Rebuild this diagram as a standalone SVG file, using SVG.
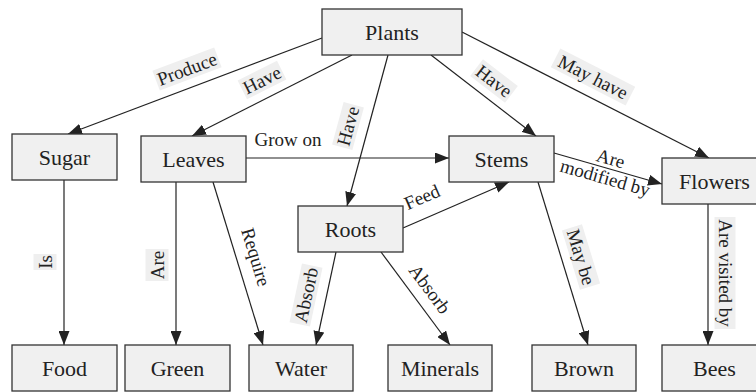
<svg xmlns="http://www.w3.org/2000/svg" width="756" height="392" viewBox="0 0 756 392" font-family="Times New Roman">
<defs>
<marker id="arr" markerUnits="userSpaceOnUse" markerWidth="14" markerHeight="11" refX="14" refY="5.5" orient="auto">
<path d="M0,0 L14,5.5 L0,11 z" fill="#222"/>
</marker>
</defs>
<rect width="756" height="392" fill="#fff"/>
<g id="connectors" stroke="#222" stroke-width="1.2" marker-end="url(#arr)">
<line x1="322" y1="38" x2="68" y2="134"/>
<line x1="352" y1="55" x2="192" y2="136"/>
<line x1="388" y1="55" x2="347" y2="206"/>
<line x1="431" y1="55" x2="536" y2="136"/>
<line x1="462" y1="32" x2="709" y2="158"/>
<line x1="246" y1="158" x2="449" y2="158"/>
<line x1="554" y1="153" x2="662" y2="184"/>
<line x1="403" y1="228" x2="509" y2="182"/>
<line x1="64" y1="180" x2="64" y2="345"/>
<line x1="176" y1="182" x2="176" y2="345"/>
<line x1="213" y1="182" x2="263" y2="345"/>
<line x1="336" y1="252" x2="316" y2="345"/>
<line x1="381" y1="252" x2="450" y2="345"/>
<line x1="538" y1="182" x2="588" y2="345"/>
<line x1="708" y1="204" x2="708" y2="345"/>
</g>
<g id="labels" font-size="19" fill="#222" text-anchor="middle" dominant-baseline="central">
<g transform="translate(187,69) rotate(-20.7)"><rect x="-33" y="-10.5" width="66" height="21" fill="#efefef"/><text font-family="Times New Roman">Produce</text></g>
<g transform="translate(262,80) rotate(-26.6)"><rect x="-22" y="-10.5" width="44" height="21" fill="#efefef"/><text font-family="Times New Roman">Have</text></g>
<g transform="translate(348,126) rotate(-74.8)"><rect x="-22" y="-10.5" width="44" height="21" fill="#efefef"/><text font-family="Times New Roman">Have</text></g>
<text x="288" y="139" font-family="Times New Roman">Grow on</text>
<g transform="translate(494,81) rotate(37.6)"><rect x="-22" y="-10.5" width="44" height="21" fill="#efefef"/><text font-family="Times New Roman">Have</text></g>
<g transform="translate(593,77) rotate(27)"><rect x="-42" y="-10.5" width="84" height="21" fill="#efefef"/><text font-family="Times New Roman">May have</text></g>
<g transform="translate(608,168) rotate(16)"><text y="-10" font-family="Times New Roman">Are</text><text y="10" font-family="Times New Roman">modified by</text></g>
<g transform="translate(422,197) rotate(-23.5)"><text font-family="Times New Roman">Feed</text></g>
<g transform="translate(45,262) rotate(-90)"><rect x="-8" y="-11.5" width="16" height="23" fill="#efefef"/><text font-family="Times New Roman">Is</text></g>
<g transform="translate(157,265) rotate(-90)"><rect x="-16" y="-11.5" width="32" height="23" fill="#efefef"/><text font-family="Times New Roman">Are</text></g>
<g transform="translate(256,257) rotate(73)"><text font-family="Times New Roman">Require</text></g>
<g transform="translate(306,295) rotate(-78)"><rect x="-30" y="-10.5" width="60" height="21" fill="#efefef"/><text font-family="Times New Roman">Absorb</text></g>
<g transform="translate(430,289) rotate(53.4)"><text font-family="Times New Roman">Absorb</text></g>
<g transform="translate(581,257) rotate(73)"><rect x="-31" y="-10.5" width="62" height="21" fill="#efefef"/><text font-family="Times New Roman">May be</text></g>
<g transform="translate(725,273) rotate(90)"><rect x="-56" y="-10.5" width="112" height="21" fill="#efefef"/><text font-family="Times New Roman">Are visited by</text></g>
</g>
<g id="nodes" font-size="22" text-anchor="middle" dominant-baseline="central">
<g id="plants"><rect x="322" y="9" width="140" height="46" fill="#f0f0f0" stroke="#333" stroke-width="1.3"/><text x="392" y="32" fill="#222" font-family="Times New Roman">Plants</text></g>
<g id="sugar"><rect x="12" y="134" width="105" height="46" fill="#f0f0f0" stroke="#333" stroke-width="1.3"/><text x="64.5" y="157" fill="#222" font-family="Times New Roman">Sugar</text></g>
<g id="leaves"><rect x="141" y="136" width="105" height="46" fill="#f0f0f0" stroke="#333" stroke-width="1.3"/><text x="193.5" y="159" fill="#222" font-family="Times New Roman">Leaves</text></g>
<g id="stems"><rect x="449" y="136" width="105" height="46" fill="#f0f0f0" stroke="#333" stroke-width="1.3"/><text x="501.5" y="159" fill="#222" font-family="Times New Roman">Stems</text></g>
<g id="flowers"><rect x="662" y="158" width="105" height="46" fill="#f0f0f0" stroke="#333" stroke-width="1.3"/><text x="714.5" y="181" fill="#222" font-family="Times New Roman">Flowers</text></g>
<g id="roots"><rect x="298" y="206" width="105" height="46" fill="#f0f0f0" stroke="#333" stroke-width="1.3"/><text x="350.5" y="229" fill="#222" font-family="Times New Roman">Roots</text></g>
<g id="food"><rect x="12" y="345" width="105" height="46" fill="#f0f0f0" stroke="#333" stroke-width="1.3"/><text x="64.5" y="368" fill="#222" font-family="Times New Roman">Food</text></g>
<g id="green"><rect x="125" y="345" width="105" height="46" fill="#f0f0f0" stroke="#333" stroke-width="1.3"/><text x="177.5" y="368" fill="#222" font-family="Times New Roman">Green</text></g>
<g id="water"><rect x="249" y="345" width="104" height="46" fill="#f0f0f0" stroke="#333" stroke-width="1.3"/><text x="301" y="368" fill="#222" font-family="Times New Roman">Water</text></g>
<g id="minerals"><rect x="388" y="345" width="104" height="46" fill="#f0f0f0" stroke="#333" stroke-width="1.3"/><text x="440" y="368" fill="#222" font-family="Times New Roman">Minerals</text></g>
<g id="brown"><rect x="532" y="345" width="104" height="46" fill="#f0f0f0" stroke="#333" stroke-width="1.3"/><text x="584" y="368" fill="#222" font-family="Times New Roman">Brown</text></g>
<g id="bees"><rect x="662" y="345" width="105" height="46" fill="#f0f0f0" stroke="#333" stroke-width="1.3"/><text x="714.5" y="368" fill="#222" font-family="Times New Roman">Bees</text></g>
</g>
</svg>
